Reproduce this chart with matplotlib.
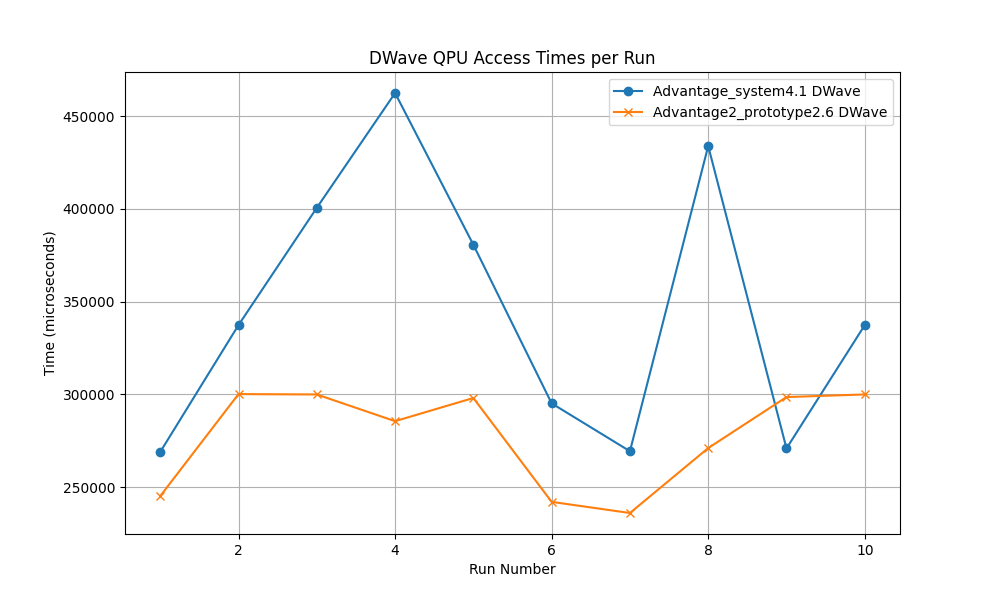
import matplotlib
matplotlib.use("Agg")
import matplotlib.pyplot as plt

runs = [1, 2, 3, 4, 5, 6, 7, 8, 9, 10]
adv41_times = [268900, 337300, 400500, 462400, 380600, 295100, 269300, 433800, 270800, 337300]
adv2_times = [245100, 300100, 299900, 285500, 298000, 242000, 236000, 271000, 298500, 299900]

plt.figure(figsize=(10, 6))
plt.plot(runs, adv41_times, marker='o', label='Advantage_system4.1 DWave')
plt.plot(runs, adv2_times, marker='x', label='Advantage2_prototype2.6 DWave')
plt.xlabel('Run Number')
plt.ylabel('Time (microseconds)')
plt.title('DWave QPU Access Times per Run')
plt.legend()
plt.grid(True)
plt.savefig('out.png', dpi=100)
